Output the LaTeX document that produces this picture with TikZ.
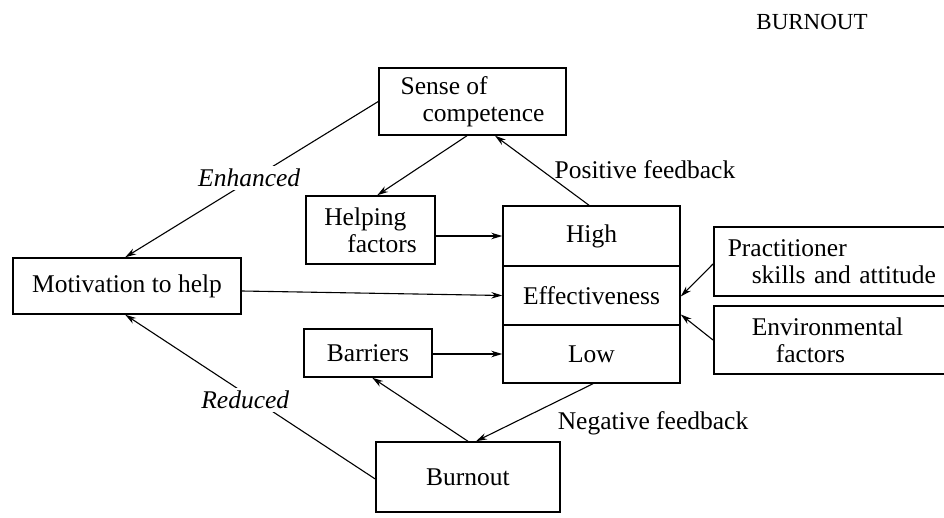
\documentclass[tikz,border=0pt]{standalone}
\usepackage{fontspec}
\setmainfont{Liberation Serif}
\usetikzlibrary{arrows.meta}
\begin{document}
\begin{tikzpicture}[x=1pt,y=-1pt,
  txt/.style={font=\fontsize{25.5}{27}\selectfont, inner sep=0pt},
  box/.style={txt, draw, line width=1.5pt, align=center},
  arr/.style={line width=1.1pt, -{Stealth[length=11pt,width=6.5pt]}},
  lbl/.style={font=\fontsize{25.5}{27}\selectfont\itshape, fill=white, inner sep=3pt}]
\useasboundingbox (0,0) rectangle (944,518);
\clip (0,0) rectangle (944,518);

% heading
\node[txt, font=\fontsize{23}{26}\selectfont] (head) at (812,22) {BURNOUT};

% boxes
\node[box, minimum width=187pt, minimum height=67pt, align=left] (sense) at (472.5,101.5)
  {Sense of\\\hspace*{22pt}competence};
\node[box, minimum width=129pt, minimum height=68pt, align=left] (help) at (370.5,230)
  {Helping\\\hspace*{23pt}factors};
\node[box, minimum width=128pt, minimum height=48pt] (barr) at (368,353) {Barriers};
\node[box, minimum width=228pt, minimum height=56pt] (motiv) at (127,286) {Motivation to help};
\node[box, minimum width=177pt, minimum height=60pt] (high) at (591.5,236) {High};
\node[box, minimum width=177pt, minimum height=59pt] (eff) at (591.5,295.5) {Effectiveness};
\node[box, minimum width=177pt, minimum height=58pt] (low) at (591.5,354) {Low};
\node[box, anchor=west, minimum width=250pt, minimum height=69pt, text width=222pt,
  inner xsep=14pt, align=left] (prac) at (713,261.5)
  {Practitioner\\\hspace*{24pt}skills and attitude};
\node[box, anchor=west, minimum width=250pt, minimum height=68pt, text width=190pt,
  inner xsep=38pt, align=left] (env) at (713,340)
  {Environmental\\\hspace*{24pt}factors};
\node[box, minimum width=184pt, minimum height=70pt] (burn) at (468,477) {Burnout};

% free-standing labels
\node[txt] (posfb) at (645,170) {Positive feedback};
\node[txt] (negfb) at (653,423) {Negative feedback};

% connectors
\draw[arr] (sense.west) -- node[lbl, pos=0.51, yshift=3pt] (enh) {Enhanced}
  ([xshift=113pt]motiv.north west);
\draw[arr] ([yshift=-2pt]burn.west) -- node[lbl, pos=0.52, yshift=-6pt] (red) {Reduced}
  ([xshift=113pt]motiv.south west);
\draw[arr] ([xshift=-5.5pt]sense.south) -- ([xshift=72pt]help.north west);
\draw[arr] ([xshift=-2.5pt]high.north) -- ([xshift=22.5pt]sense.south);
\draw[arr] (help.east |- high.west) -- (high.west);
\draw[arr] ([yshift=-5pt]motiv.east) -- (eff.west);
\draw[arr] (barr.east |- low.west) -- (low.west);
\draw[arr] ([yshift=-2.5pt]prac.west) -- ([yshift=-1pt]eff.east);
\draw[arr] (env.west) -- ([yshift=-19pt]eff.east);
\draw[arr] ([xshift=1.5pt]low.south) -- ([xshift=8pt]burn.north);
\draw[arr] (burn.north) -- ([xshift=69pt]barr.south west);
\end{tikzpicture}
\end{document}
